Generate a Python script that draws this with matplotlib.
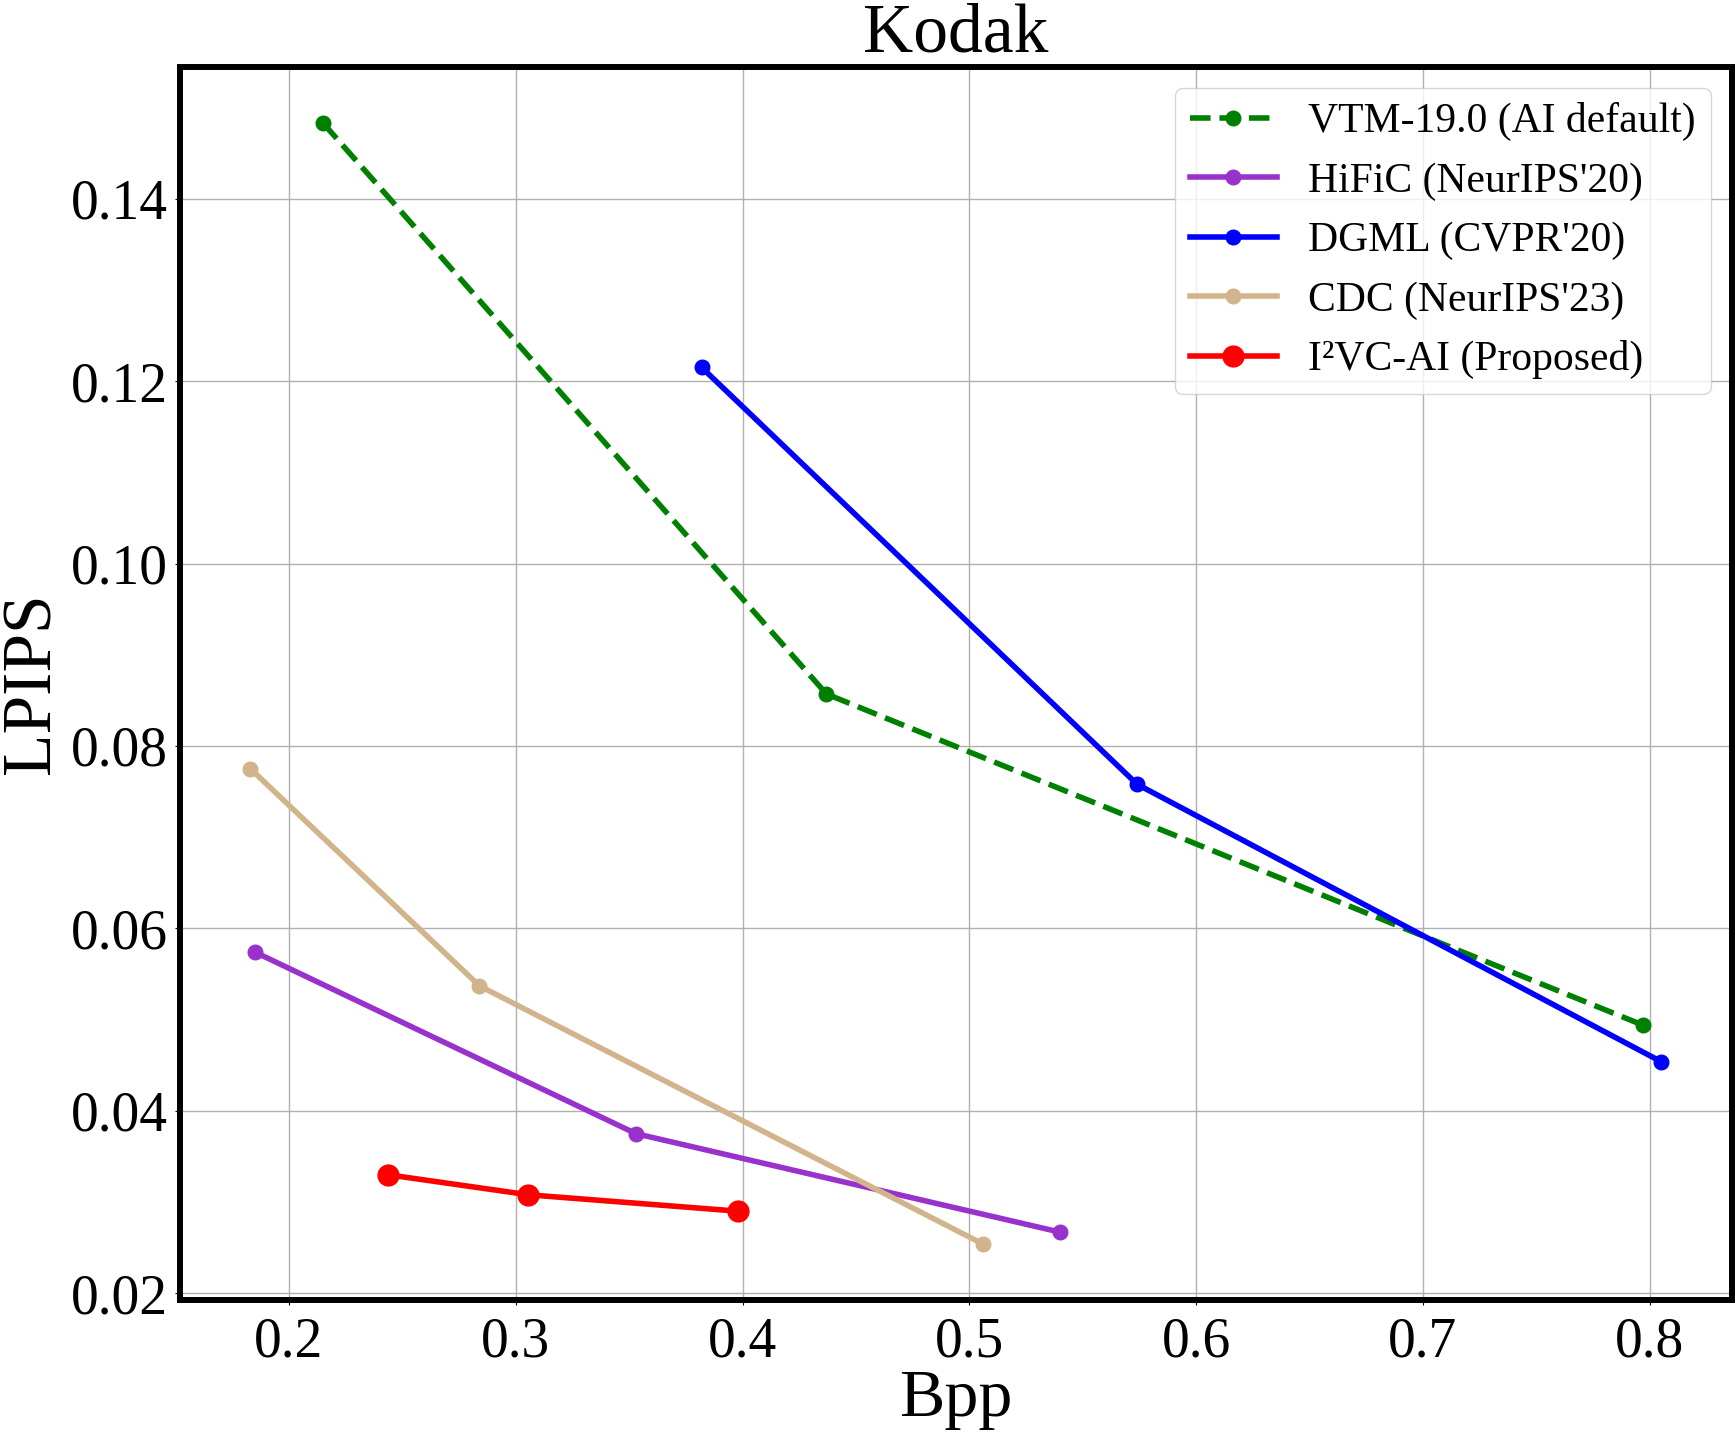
import matplotlib
matplotlib.use("Agg")
import matplotlib.pyplot as plt

plt.rcParams['font.family'] = ['Liberation Serif', 'DejaVu Serif']
plt.rcParams['mathtext.fontset'] = 'stix'

# data
vtm_bpp = [0.215, 0.437, 0.797]
vtm_lpips = [0.1483, 0.0857, 0.0494]
hific_bpp = [0.185, 0.353, 0.540]
hific_lpips = [0.0574, 0.0375, 0.0267]
dgml_bpp = [0.382, 0.574, 0.805]
dgml_lpips = [0.1215, 0.0758, 0.0454]
cdc_bpp = [0.183, 0.284, 0.506]
cdc_lpips = [0.0775, 0.0537, 0.0254]
ours_bpp = [0.2435, 0.3055, 0.398]
ours_lpips = [0.0330, 0.0308, 0.0290]

xticks = [0.2, 0.3, 0.4, 0.5, 0.6, 0.7, 0.8]
yticks = [0.02, 0.04, 0.06, 0.08, 0.10, 0.12, 0.14]

fig = plt.figure(figsize=(17.35, 14.34), dpi=100)
ax = fig.add_axes([0.1037, 0.0934, 0.8943, 0.8599])

lw = 4.0
ax.plot(vtm_bpp, vtm_lpips, '--', color='green', lw=lw, marker='o', ms=10.5,
        label='VTM-19.0 (AI default)')
ax.plot(hific_bpp, hific_lpips, '-', color='darkorchid', lw=lw, marker='o', ms=10.5,
        label="HiFiC (NeurIPS'20)")
ax.plot(dgml_bpp, dgml_lpips, '-', color='blue', lw=lw, marker='o', ms=10.5,
        label="DGML (CVPR'20)")
ax.plot(cdc_bpp, cdc_lpips, '-', color='tan', lw=lw, marker='o', ms=10.5,
        label="CDC (NeurIPS'23)")
ax.plot(ours_bpp, ours_lpips, '-', color='red', lw=lw, marker='o', ms=15,
        label="I²VC-AI (Proposed)")

ax.set_xticks(xticks)
ax.set_xticklabels([f"{v:.1f}" for v in xticks])
ax.set_yticks(yticks)
ax.set_yticklabels([f"{v:.2f}" for v in yticks])
ax.tick_params(labelsize=40, length=3.5, width=0.8)
ax.tick_params(axis='x', pad=8)
ax.tick_params(axis='y', pad=5)
ax.grid(True, color='#b0b0b0', lw=1.0)
for s in ax.spines.values():
    s.set_linewidth(4.3)

ax.set_xlabel('Bpp', fontsize=49, labelpad=1)
ax.set_ylabel('LPIPS', fontsize=50, labelpad=5)
ax.set_title('Kodak', fontsize=50, pad=2)

ax.legend(loc='upper right', fontsize=30, handlelength=2.1, borderpad=0.35,
          labelspacing=0.5, handletextpad=0.75)

fig.savefig('out.png', dpi=100)
